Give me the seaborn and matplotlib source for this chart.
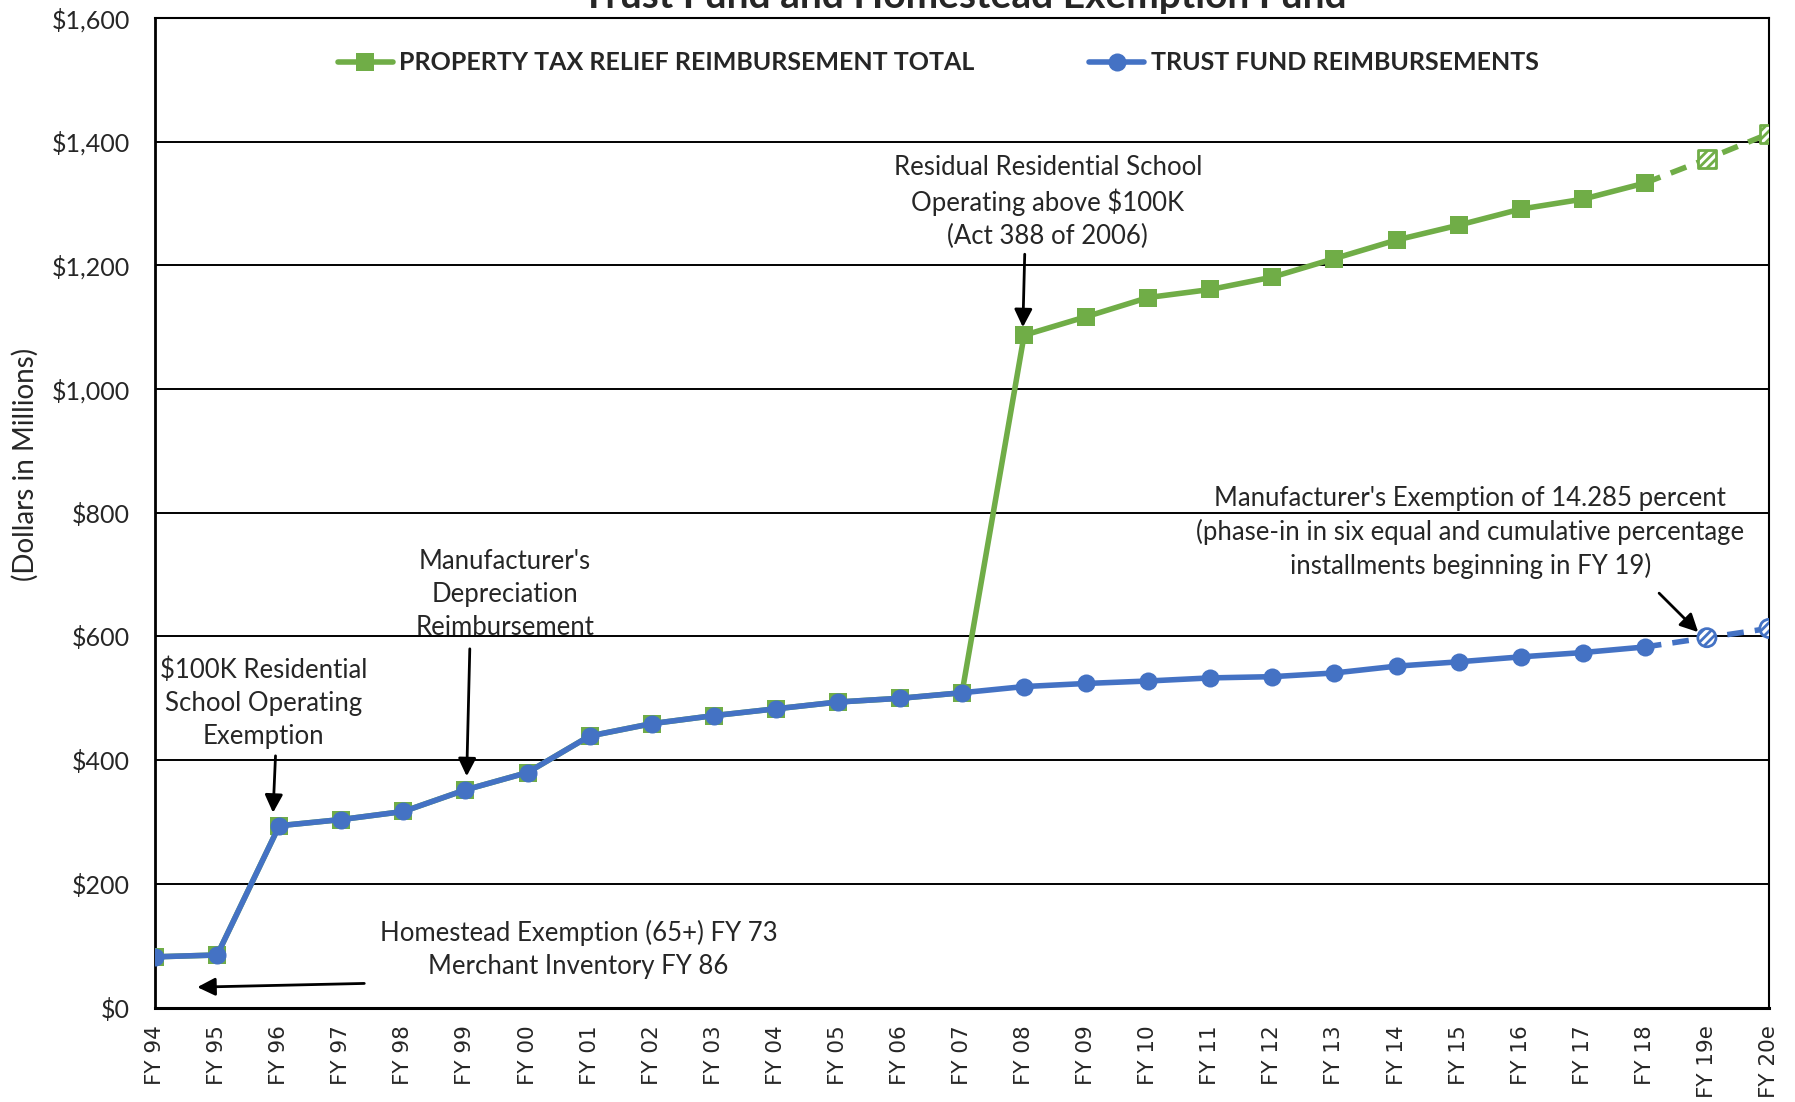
import pandas as pd
import seaborn as sns
import matplotlib.pyplot as plt
from matplotlib.lines import Line2D
from matplotlib.ticker import MultipleLocator

# data ($ millions)
years = ["FY 94", "FY 95", "FY 96", "FY 97", "FY 98", "FY 99", "FY 00", "FY 01", "FY 02",
         "FY 03", "FY 04", "FY 05", "FY 06", "FY 07", "FY 08", "FY 09", "FY 10", "FY 11",
         "FY 12", "FY 13", "FY 14", "FY 15", "FY 16", "FY 17", "FY 18", "FY 19e", "FY 20e"]
trust_fund = [82, 85, 294, 304, 317, 352, 380, 439, 459, 472, 483, 494, 500, 509,
              519, 524, 528, 533, 535, 541, 552, 559, 567, 574, 583, 598, 613]
total_relief = [82, 85, 294, 304, 317, 352, 380, 439, 459, 472, 483, 494, 500, 509,
                1087, 1117, 1148, 1161, 1181, 1211, 1241, 1265, 1291, 1307, 1333, 1372, 1413]
n_actual = 25  # FY 94 .. FY 18 are actuals, the rest estimates

green = "#70AD47"
blue = "#4472C4"

df = pd.DataFrame({"pos": range(len(years)), "year": years,
                   "trust": trust_fund, "total": total_relief})
act = df.iloc[:n_actual]
est = df.iloc[n_actual - 1:]
est_pts = df.iloc[n_actual:]

sns.set_style("white")
plt.rcParams['font.family'] = ['Lato', 'DejaVu Sans']
plt.rcParams['hatch.linewidth'] = 2.0

fig = plt.figure(figsize=(17.95, 11.02), dpi=100)
ax = fig.add_axes([0.0864, 0.0857, 0.8991, 0.898])

lw = 4
# green series
sns.lineplot(data=act, x="pos", y="total", color=green, lw=lw, marker="s",
             markersize=13.5, markeredgewidth=0, ax=ax, zorder=3)
sns.lineplot(data=est, x="pos", y="total", color=green, lw=lw, ls=(0, (3, 2)),
             ax=ax, zorder=3)
plt.rcParams['hatch.color'] = green
sns.scatterplot(data=est_pts, x="pos", y="total", marker="s", s=170, facecolor="white",
                edgecolor=green, linewidth=2, hatch="////", ax=ax, zorder=4)

# blue series
sns.lineplot(data=act, x="pos", y="trust", color=blue, lw=lw, marker="o",
             markersize=13, markeredgewidth=0, ax=ax, zorder=5)
sns.lineplot(data=est, x="pos", y="trust", color=blue, lw=lw, ls=(0, (3, 2)),
             ax=ax, zorder=5)
plt.rcParams['hatch.color'] = blue
sns.scatterplot(data=est_pts, x="pos", y="trust", marker="o", s=170, facecolor="white",
                edgecolor=blue, linewidth=2, hatch="////", ax=ax, zorder=6)

ax.set_xlim(0, len(years) - 1)
ax.set_ylim(0, 1600)
ax.set_xticks(range(len(years)))
ax.set_xticklabels(years, rotation=90, family="DejaVu Sans", fontsize=15.5)
ax.set_yticks(range(0, 1601, 200))
ax.set_yticklabels(["${:,}".format(v) for v in range(0, 1601, 200)], fontsize=18)
ax.yaxis.set_minor_locator(MultipleLocator(40))
ax.tick_params(axis="y", which="major", direction="out", length=10, width=1.5,
               color="black", pad=8)
ax.tick_params(axis="y", which="minor", direction="in", length=8, width=1.5, color="black")
ax.tick_params(axis="x", direction="out", length=9, width=1.5, color="black", pad=4)
ax.set_xlabel("")
ax.set_ylabel("")
ax.grid(axis="y", color="black", lw=1.4)
ax.set_axisbelow(True)
for s in ax.spines.values():
    s.set_color("black")
    s.set_linewidth(1.5)
ax.spines["bottom"].set_linewidth(2.2)
ax.spines["left"].set_linewidth(2)

fig.text(0.014, 0.579, "(Dollars in Millions)", rotation=90, ha="center", va="center",
         fontsize=20)
fig.text(0.537, 0.993, "Trust Fund and Homestead Exemption Fund", ha="center",
         va="baseline", fontsize=28, fontweight="bold")

handles = [Line2D([], [], color=green, lw=lw, marker="s", markersize=13.5, markeredgewidth=0),
           Line2D([], [], color=blue, lw=lw, marker="o", markersize=13, markeredgewidth=0)]
fig.legend(handles, ["PROPERTY TAX RELIEF REIMBURSEMENT TOTAL", "TRUST FUND REIMBURSEMENTS"],
           loc="center", bbox_to_anchor=(0.5226, 0.943), ncol=2, frameon=False,
           handlelength=2.2, handletextpad=0.25, columnspacing=4.6,
           prop={"weight": "bold", "size": 18})

arrow = dict(arrowstyle="-|>", color="black", lw=2, mutation_scale=27, shrinkA=0, shrinkB=0)
notes = [
    ("Residual Residential School\nOperating above $100K\n(Act 388 of 2006)",
     (14.38, 1302), (14.01, 1218), (13.98, 1100)),
    ("Manufacturer's\nDepreciation\nReimbursement", (5.64, 668), (5.07, 580), (5.02, 374)),
    ("$100K Residential\nSchool Operating\nExemption", (1.75, 492), (1.94, 407), (1.90, 315)),
    ("Homestead Exemption (65+) FY 73\nMerchant Inventory FY 86", (6.82, 94), (3.37, 39), (0.68, 33)),
    ("Manufacturer's Exemption of 14.285 percent\n(phase-in in six equal and cumulative percentage\ninstallments beginning in FY 19)",
     (21.19, 768), (24.23, 670), (24.86, 607)),
]
for txt, tpos, a0, a1 in notes:
    ax.text(tpos[0], tpos[1], txt, ha="center", va="center", fontsize=18.5,
            linespacing=1.38, zorder=7)
    ax.annotate("", xy=a1, xytext=a0, arrowprops=arrow, zorder=7)

fig.savefig("out.png", dpi=100)
